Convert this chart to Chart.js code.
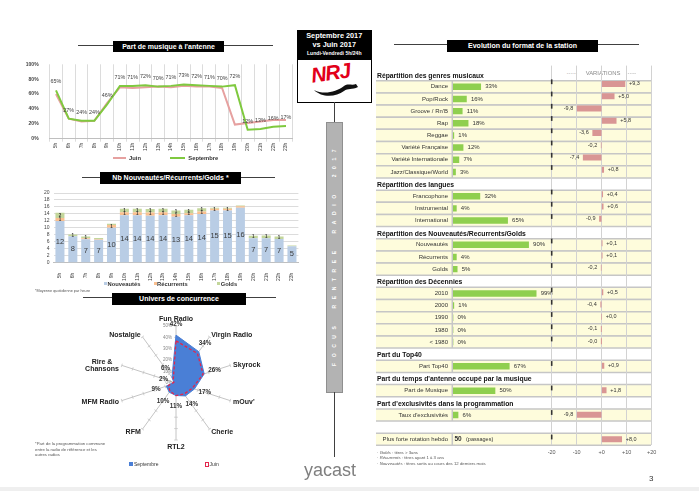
<!DOCTYPE html>
<html><head><meta charset="utf-8">
<script src="https://cdn.jsdelivr.net/npm/chart.js@4.4.1/dist/chart.umd.min.js"></script>
<style>
body{margin:0;width:699px;height:491px;position:relative;background:#fff;font-family:'Liberation Sans',Arial,Helvetica,sans-serif;overflow:hidden;color:#333}
canvas{position:absolute}
.abs{position:absolute;white-space:nowrap}
.tbox{position:absolute;background:#000;color:#fff;font-weight:bold;font-size:7px;text-align:center}
.hl{position:absolute;height:1px;background:#404040}
.lg{position:absolute;font-weight:bold;font-size:5.8px;line-height:8px;height:8px;color:#333;white-space:nowrap}
.note{position:absolute;font-size:4.3px;line-height:5.5px;color:#555;white-space:nowrap}
.dash{position:absolute;font-size:5px;letter-spacing:0.5px;line-height:7px;color:#9a9a9a;white-space:nowrap}
</style></head>
<body>
<!-- section titles -->
<div class="hl" style="left:78px;top:45px;width:195px"></div>
<div class="tbox" style="left:113px;top:41px;width:111px;height:11px;line-height:11px">Part de musique à l'antenne</div>
<div class="hl" style="left:82px;top:177px;width:193px"></div>
<div class="tbox" style="left:100px;top:172px;width:141px;height:11.5px;line-height:11.5px">Nb Nouveautés/Récurrents/Golds *</div>
<div class="hl" style="left:83px;top:297px;width:193px"></div>
<div class="tbox" style="left:112px;top:292.5px;width:134px;height:12.5px;line-height:12.5px">Univers de concurrence</div>
<div class="hl" style="left:394px;top:44px;width:245px"></div>
<div class="tbox" style="left:447px;top:40px;width:151px;height:12px;line-height:12px">Evolution du format de la station</div>

<canvas id="cLine" width="300" height="110" style="left:0;top:58px"></canvas>
<div style="position:absolute;left:112.7px;top:156.5px;width:13.3px;height:2px;background:#e6a1a0"></div>
<div class="lg" style="left:129px;top:153.5px">Juin</div>
<div style="position:absolute;left:170px;top:156.5px;width:15px;height:2px;background:#7fc93f"></div>
<div class="lg" style="left:188.3px;top:153.5px">Septembre</div>

<canvas id="cBar" width="300" height="96" style="left:0;top:186px"></canvas>
<div style="position:absolute;left:104px;top:282px;width:3px;height:3px;background:#b9cde5"></div>
<div class="lg" style="left:107.5px;top:279.5px">Nouveautés</div>
<div style="position:absolute;left:154px;top:282px;width:3px;height:3px;background:#fac090"></div>
<div class="lg" style="left:157px;top:279.5px">Récurrents</div>
<div style="position:absolute;left:217px;top:282px;width:3px;height:3px;background:#c3d69b"></div>
<div class="lg" style="left:220.7px;top:279.5px">Golds</div>
<div class="note" style="left:35px;top:288.5px;font-size:3.8px">*Moyenne quotidienne par heure</div>

<canvas id="cRadar" width="260" height="161" style="left:46px;top:303px"></canvas>
<div class="note" style="left:35px;top:441px">*Part de la programmation commune<br>entre la radio de référence et les<br>autres radios</div>
<div style="position:absolute;left:129px;top:462px;width:3.5px;height:3.5px;background:#4a7fd6"></div>
<div class="lg" style="left:134px;top:460px;font-weight:normal;font-size:5px">Septembre</div>
<div style="position:absolute;left:204.5px;top:462px;width:2.5px;height:2.5px;border:0.8px solid #e3264d"></div>
<div class="lg" style="left:209.5px;top:460px;font-weight:normal;font-size:5px">Juin</div>

<!-- middle column -->
<div style="position:absolute;left:297px;top:30px;width:72.5px;height:71px;border:1px solid #000;background:#fff"></div>
<div style="position:absolute;left:297px;top:30px;width:74.5px;height:30px;background:#000;color:#fff;text-align:center;font-weight:bold">
 <div style="font-size:7.3px;line-height:9px;margin-top:1px">Septembre 2017</div>
 <div style="font-size:7.3px;line-height:9px">vs Juin 2017</div>
 <div style="font-size:5.1px;line-height:9px">Lundi-Vendredi 5h/24h</div>
</div>
<svg style="position:absolute;left:300px;top:62px" width="70" height="38" viewBox="0 0 70 38">
 <path d="M14 28 C 24 33, 36 30, 44 24 C 48 21, 52 24, 56 22 L 58 25 C 52 28, 48 26, 44 29 C 36 35, 22 36, 14 28 Z" fill="#111"/>
</svg>
<div class="abs" style="left:311px;top:60px;font-size:21px;font-weight:bold;font-style:italic;color:#e2001a;transform:rotate(-8deg);letter-spacing:-1px;line-height:26px">NRJ</div>
<div style="position:absolute;left:333.5px;top:102px;width:1.5px;height:20px;background:#404040"></div>
<div style="position:absolute;left:326px;top:122px;width:15px;height:269px;background:#b3b3b3;border:1px solid #8f8f8f"></div>
<div class="abs" style="left:224px;top:252.4px;width:220px;height:8px;line-height:8px;text-align:center;color:#fff;font-weight:bold;font-size:5px;letter-spacing:5.6px;word-spacing:5px;transform:rotate(-90deg)">FOCUS RENTREE RADIO 2017</div>
<div style="position:absolute;left:333.5px;top:392px;width:1.5px;height:65px;background:#404040"></div>
<div class="abs" style="left:304px;top:461px;font-size:18px;line-height:18px;color:#7f7f7f">yacast</div>

<!-- right panel -->
<div class="dash" style="left:566.7px;top:69.5px">-----</div>
<div class="abs" style="left:585.7px;top:70px;font-size:5.9px;line-height:7px;color:#8a8a8a">VARIATIONS</div>
<div class="dash" style="left:625.7px;top:69.5px">-----</div>
<canvas id="cVal" width="300" height="400" style="left:370px;top:60px"></canvas>
<canvas id="cVar" width="300" height="400" style="left:370px;top:60px"></canvas>
<div class="note" style="left:377px;top:449.5px;font-size:4.3px">· <i>Golds</i> : titres &gt; 3ans<br>· <i>Récurrents</i> : titres ayant 1 à 3 ans<br>· <i>Nouveautés</i> : titres sortis au cours des 12 derniers mois</div>
<div class="abs" style="left:649px;top:474px;font-size:8px;line-height:9px;color:#333">3</div>
<div style="position:absolute;left:0;top:487px;width:699px;height:4px;background:#efefef"></div>

<script>
// ---------- data ----------
const hours = ['5h','6h','7h','8h','9h','10h','11h','12h','13h','14h','15h','16h','17h','18h','19h','20h','21h','22h','23h'];
const musiqueJuin      = [60,27,23,24,48,69,68,69,70,69,71,70,70,68,19,21,23,25,25];
const musiqueSeptembre = [65,27,24,24,46,71,71,72,70,71,73,72,71,70,72,12,13,16,17];
const percentTicks = [0,20,40,60,80,100];

const nouveautes = [12,7.6,6.7,6.6,10,13.6,13.6,13.5,13.6,13.2,13.6,14,15,15,15.8,7,7,6.8,4.7];
const recurrents = [0.8,0,0.3,0.2,0.8,0.9,0.9,0.9,0.9,0.8,0.6,0.7,0.5,0.5,0.4,0,0,0,0];
const golds      = [1.5,0.5,0.5,0.3,0.4,1.0,1.0,1.0,1.0,1.0,1.0,0.9,0.3,0.3,0.2,0.7,0.8,0.7,0.2];
const barTicks = [0,2,4,6,8,10,12,14,16,18,20];

const radios = ['Fun Radio','Virgin Radio','Skyrock',"mOuv'",'Cherie','RTL2','RFM','MFM Radio',['Rire &','Chansons'],'Nostalgie'];
const concurrenceSeptembre = [42,34,26,17,14,11,10,9,2,6];
const concurrenceJuin      = [37,32,25,15,12,11,9,7,2,4];
const radarTicks = [0,10,20,30,40,50];

const sectionTitles = ['Répartition des genres musicaux','Répartition des langues','Répartition des Nouveautés/Recurrents/Golds','Répartition des Décennies','Part du Top40',"Part du temps d'antenne occupé par la musique","Part d'exclusivités dans la programmation"];
const genreLabels = ['Dance','Pop/Rock',"Groove / Rn'B",'Rap','Reggae','Variété Française','Variété Internationale','Jazz/Classique/World'];
const genreValues = [33,16,11,18,1,12,7,3];
const genreVariations = [9.3,5.0,-9.8,5.8,-3.6,-0.2,-7.4,0.8];
const langueLabels = ['Francophone','Instrumental','International'];
const langueValues = [32,4,65];
const langueVariations = [0.4,0.6,-0.9];
const nrgLabels = ['Nouveautés','Récurrents','Golds'];
const nrgValues = [90,4,5];
const nrgVariations = [0.1,0.1,-0.2];
const decennieLabels = ['2010','2000','1990','1980','< 1980'];
const decennieValues = [99,1,0,0,0];
const decennieVariations = [0.5,-0.4,0.0,-0.1,-0.04];
const top40Labels = ['Part Top40'];
const top40Values = [67];
const top40Variations = [0.9];
const musiqueLabels = ['Part de Musique'];
const musiqueValues = [50];
const musiqueVariations = [1.8];
const exclusiviteLabels = ["Taux d'exclusivités"];
const exclusiviteValues = [6];
const exclusiviteVariations = [-9.8];
const rotationLabel = 'Plus forte rotation hebdo';
const rotationPassages = 50;
const rotationVariation = 8.0;
const variationTicks = [-20,-10,0,10,20];

// ---------- build table slots ----------
const sections = [
  [genreLabels,genreValues,genreVariations],
  [langueLabels,langueValues,langueVariations],
  [nrgLabels,nrgValues,nrgVariations],
  [decennieLabels,decennieValues,decennieVariations],
  [top40Labels,top40Values,top40Variations],
  [musiqueLabels,musiqueValues,musiqueVariations],
  [exclusiviteLabels,exclusiviteValues,exclusiviteVariations]
];
const slotLabels=[], slotValues=[], slotVars=[], slotType=[], slotHeader=[];
sections.forEach((s,k)=>{
  slotLabels.push(''); slotValues.push(null); slotVars.push(null); slotType.push('header'); slotHeader.push(sectionTitles[k]);
  s[0].forEach((l,i)=>{ slotLabels.push(l); slotValues.push(s[1][i]); slotVars.push(s[2][i]); slotType.push('row'); slotHeader.push(''); });
});
slotLabels.push(''); slotValues.push(null); slotVars.push(null); slotType.push('blank'); slotHeader.push('');
slotLabels.push(rotationLabel); slotValues.push(null); slotVars.push(rotationVariation); slotType.push('rotation'); slotHeader.push('');

const FF = "'Liberation Sans', Arial, Helvetica, sans-serif";
Chart.defaults.font.family = FF;
Chart.defaults.color = '#333';
Chart.defaults.animation = false;
Chart.defaults.plugins.legend.display = false;
Chart.defaults.plugins.tooltip.enabled = false;

// ---------- line chart ----------
new Chart(document.getElementById('cLine'), {
  type:'line',
  data:{labels:hours, datasets:[
    {label:'Juin', data:musiqueJuin, borderColor:'#e6a1a0', borderWidth:2, pointRadius:0, tension:0, order:1},
    {label:'Septembre', data:musiqueSeptembre, borderColor:'#7fc93f', borderWidth:2, pointRadius:0, tension:0, order:0}
  ]},
  options:{responsive:false, layout:{padding:{top:6.3,right:7.6,left:0,bottom:0}},
    scales:{
      x:{offset:true, grid:{offset:true, color:'#dcdcdc', tickLength:3}, border:{color:'#bfbfbf'},
         ticks:{minRotation:90,maxRotation:90,autoSkip:false,font:{size:5},padding:1,color:'#444'},
         afterFit:s=>{s.height=29.3;}},
      y:{min:0,max:100, grid:{display:false}, border:{display:false},
         afterBuildTicks:s=>{s.ticks=percentTicks.map(v=>({value:v}));},
         ticks:{autoSkip:false,font:{size:5,weight:'bold'},color:'#444',padding:3,callback:v=>v+'%'},
         afterFit:s=>{s.width=49.6;}}
    }},
  plugins:[{id:'lbl', afterDatasetsDraw(chart){
    const ctx=chart.ctx, meta=chart.getDatasetMeta(1);
    ctx.save(); ctx.font='5.4px '+FF; ctx.fillStyle='#404040'; ctx.textAlign='center'; ctx.textBaseline='middle';
    meta.data.forEach((p,i)=>ctx.fillText(musiqueSeptembre[i]+'%', p.x, p.y-8.5));
    ctx.restore();
  }}]
});

// ---------- stacked bar chart ----------
new Chart(document.getElementById('cBar'), {
  type:'bar',
  data:{labels:hours, datasets:[
    {label:'Nouveautés', data:nouveautes, backgroundColor:'#b9cde5'},
    {label:'Récurrents', data:recurrents, backgroundColor:'#fac090'},
    {label:'Golds', data:golds, backgroundColor:'#c3d69b'}
  ]},
  options:{responsive:false, layout:{padding:{top:3.3,right:1.6,left:0,bottom:0}},
    datasets:{bar:{barPercentage:0.7, categoryPercentage:1}},
    scales:{
      x:{stacked:true, grid:{display:false}, border:{color:'#bfbfbf'},
         ticks:{minRotation:90,maxRotation:90,autoSkip:false,font:{size:5},padding:2,color:'#444'},
         afterFit:s=>{s.height=19.3;}},
      y:{stacked:true,min:0,max:20, grid:{color:'#dcdcdc',drawTicks:false}, border:{display:false},
         afterBuildTicks:s=>{s.ticks=barTicks.map(v=>({value:v}));},
         ticks:{autoSkip:false,font:{size:5},color:'#444',padding:4},
         afterFit:s=>{s.width=53.5;}}
    }},
  plugins:[{id:'lbl', afterDatasetsDraw(chart){
    const ctx=chart.ctx;
    ctx.save(); ctx.textAlign='center'; ctx.textBaseline='middle'; ctx.fillStyle='#3a3a3a';
    ctx.font='7.5px '+FF;
    chart.getDatasetMeta(0).data.forEach((b,i)=>ctx.fillText(Math.round(nouveautes[i]), b.x, (b.y+b.base)/2));
    ctx.font='bold 4.5px '+FF;
    [[1,recurrents],[2,golds]].forEach(([d,vals])=>{
      chart.getDatasetMeta(d).data.forEach((b,i)=>{const r=Math.round(vals[i]); if(r>=1) ctx.fillText(r, b.x, (b.y+b.base)/2);});
    });
    ctx.restore();
  }}]
});

// ---------- radar ----------
new Chart(document.getElementById('cRadar'), {
  type:'radar',
  data:{labels:radios, datasets:[
    {label:'Juin', data:concurrenceJuin, borderColor:'#e3264d', borderDash:[3,2], borderWidth:1.3, fill:false, pointRadius:0, order:0},
    {label:'Septembre', data:concurrenceSeptembre, backgroundColor:'#4a7fd6', borderColor:'#4a7fd6', borderWidth:1, fill:true, pointRadius:0, order:1}
  ]},
  options:{responsive:false, layout:{padding:{top:23,bottom:23,left:0,right:0}},
    scales:{r:{min:0,max:50,
      ticks:{display:false, stepSize:10},
      grid:{display:false}, angleLines:{color:'#c4c4c4', lineWidth:1},
      pointLabels:{display:false}}}},
  plugins:[{id:'radarDeco', beforeDatasetsDraw(chart){
      const s=chart.scales.r, ctx=chart.ctx;
      ctx.save(); ctx.strokeStyle='#c4c4c4'; ctx.lineWidth=0.8;
      radios.forEach((_,i)=>{
        const a=s.getIndexAngle(i);
        radarTicks.forEach(v=>{
          if(v===0) return;
          const p=s.getPointPositionForValue(i,v);
          const dx=Math.cos(a)*1.8, dy=Math.sin(a)*1.8;
          ctx.beginPath(); ctx.moveTo(p.x-dx,p.y-dy); ctx.lineTo(p.x+dx,p.y+dy); ctx.stroke();
        });
      });
      ctx.font='4.5px '+FF; ctx.fillStyle='#888'; ctx.textAlign='right'; ctx.textBaseline='middle';
      radarTicks.forEach(v=>{ const p=s.getPointPositionForValue(0,v); ctx.fillText(v+'%', p.x-4, p.y); });
      ctx.restore();
    },
    afterDatasetsDraw(chart){
      const s=chart.scales.r, ctx=chart.ctx;
      ctx.save(); ctx.font='bold 6.3px '+FF; ctx.fillStyle='#333'; ctx.textAlign='center'; ctx.textBaseline='middle';
      concurrenceSeptembre.forEach((v,i)=>{ const p=s.getPointPositionForValue(i, v+9.5); ctx.fillText(v+'%', p.x, p.y); });
      ctx.font='bold 7px '+FF; ctx.fillStyle='#222';
      radios.forEach((lab,i)=>{
        const lines = Array.isArray(lab)?lab:[lab];
        const p=s.getPointPosition(i, s.drawingArea+3);
        const dx=p.x-s.xCenter, dy=p.y-s.yCenter;
        const lh=7.6, maxW=Math.max(...lines.map(l=>ctx.measureText(l).width));
        let cx, cy=p.y+1;
        if(Math.abs(dx)<1){ cx=p.x; cy = p.y + (dy<0?-3.5:4); }
        else if(dx>0){ cx=p.x+maxW/2; }
        else { cx=p.x-maxW/2; }
        const y0 = cy - (lines.length-1)*lh/2;
        lines.forEach((l,k)=>ctx.fillText(l, cx, y0+k*lh));
      });
      ctx.restore();
    }}]
});

// ---------- right panel: values ----------
const fmtVar = v => (v>=0?'+':'') + v.toFixed(1).replace('.',',');
new Chart(document.getElementById('cVal'), {
  type:'bar',
  data:{labels:slotLabels, datasets:[{data:slotValues, backgroundColor:'#8fcf4f', barThickness:5.8}]},
  options:{responsive:false, indexAxis:'y', layout:{padding:{top:5.6,bottom:14.65,left:0,right:133}},
    scales:{
      x:{display:false,min:0,max:100},
      y:{grid:{display:false,drawTicks:false}, border:{display:false},
         ticks:{autoSkip:false,font:{size:6},color:'#333',padding:5},
         afterFit:s=>{s.width=83;}}
    }},
  plugins:[{id:'rows', beforeDraw(chart){
      const {ctx, chartArea, scales:{y}} = chart;
      const h = y.getPixelForValue(1)-y.getPixelForValue(0);
      const x0 = chartArea.left-77, x1 = chartArea.left+198;
      ctx.save();
      slotType.forEach((t,i)=>{
        const yc=y.getPixelForValue(i), top=yc-h/2;
        if(t==='row'||t==='rotation'){
          ctx.fillStyle='#fefcdc'; ctx.fillRect(x0,top,x1-x0,h);
          ctx.strokeStyle='#c6c6c6'; ctx.lineWidth=1.5;
          ctx.beginPath(); ctx.moveTo(x0,top); ctx.lineTo(x1,top); ctx.moveTo(x0,top+h); ctx.lineTo(x1,top+h);
          ctx.moveTo(chartArea.left-0.7,top); ctx.lineTo(chartArea.left-0.7,top+h); ctx.stroke();
        }
      });
      ctx.font='bold 6.8px '+FF; ctx.fillStyle='#111'; ctx.textAlign='left'; ctx.textBaseline='middle';
      slotType.forEach((t,i)=>{ if(t==='header') ctx.fillText(slotHeader[i], x0+1, y.getPixelForValue(i)+1); });
      ctx.restore();
    },
    afterDatasetsDraw(chart){
      const {ctx, scales:{y}} = chart, meta=chart.getDatasetMeta(0);
      ctx.save(); ctx.font='6px '+FF; ctx.fillStyle='#333'; ctx.textAlign='left'; ctx.textBaseline='middle';
      meta.data.forEach((b,i)=>{ if(slotValues[i]!==null) ctx.fillText(slotValues[i]+'%', b.x+4.5, b.y); });
      const ri=slotType.indexOf('rotation'), yc=y.getPixelForValue(ri), xl=chart.chartArea.left;
      ctx.font='bold 6.5px '+FF; ctx.fillText(String(rotationPassages), xl+1.5, yc);
      ctx.font='5.5px '+FF; ctx.fillText('(passages)', xl+13, yc);
      ctx.restore();
    }}]
});

// ---------- right panel: variations ----------
new Chart(document.getElementById('cVar'), {
  type:'bar',
  data:{labels:slotLabels, datasets:[{data:slotVars, backgroundColor:'#d99694', barThickness:5.5}]},
  options:{responsive:false, indexAxis:'y', layout:{padding:{top:5.6,bottom:0,left:181.7,right:18.3}},
    scales:{
      x:{min:-20,max:20, grid:{color:'#d2d2d2',lineWidth:1,drawTicks:false}, border:{display:false},
         afterBuildTicks:s=>{s.ticks=variationTicks.map(v=>({value:v}));},
         ticks:{font:{size:5.5},color:'#555',padding:4,callback:v=>(v>=0?'+':'')+v},
         afterFit:s=>{s.height=14.65;}},
      y:{display:false}
    }},
  plugins:[{id:'vars', afterDraw(chart){
      const {ctx, scales:{x,y}} = chart, meta=chart.getDatasetMeta(0);
      const h=y.getPixelForValue(1)-y.getPixelForValue(0), xm=x.getPixelForValue(-20);
      ctx.save();
      ctx.fillStyle='#333';
      slotType.forEach((t,i)=>{ if(t==='row'||t==='rotation'){ const top=y.getPixelForValue(i)-h/2; ctx.fillRect(xm-0.8, top+1.5, 1.6, 4.8);} });
      ctx.font='5.5px '+FF; ctx.textBaseline='middle';
      meta.data.forEach((b,i)=>{
        const v=slotVars[i]; if(v===null) return;
        if(v>=0){ ctx.textAlign='left'; ctx.fillText(fmtVar(v), Math.max(b.x,b.base)+4, b.y); }
        else { ctx.textAlign='right'; ctx.fillText(fmtVar(v), Math.min(b.x,b.base)-4, b.y); }
      });
      ctx.restore();
    }}]
});
</script>
</body></html>
